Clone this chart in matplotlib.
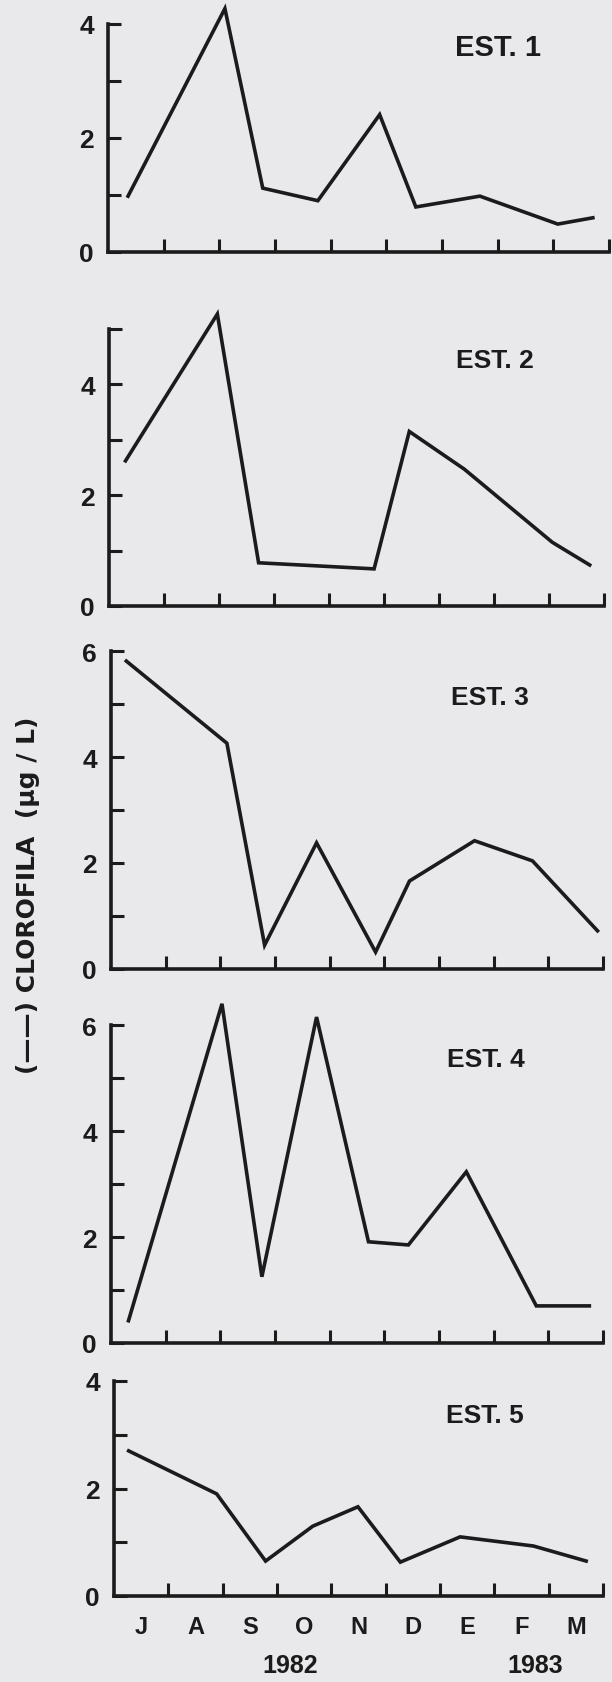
import numpy as np
import matplotlib
matplotlib.use("Agg")
import matplotlib.pyplot as plt

# meses del muestreo (jul 1982 - mar 1983)
meses = ["J", "A", "S", "O", "N", "D", "E", "F", "M"]
anios = ["1982", "1983"]
estaciones = ["EST. 1", "EST. 2", "EST. 3", "EST. 4", "EST. 5"]

# x = fecha de muestreo en meses desde el 1 de julio 1982, y = clorofila (ug/L)
x_est1 = [0.36, 2.10, 2.78, 3.77, 4.88, 5.53, 6.68, 8.08, 8.71]
clor_est1 = [0.98, 4.27, 1.12, 0.90, 2.41, 0.79, 0.98, 0.49, 0.60]

x_est2 = [0.30, 1.97, 2.72, 4.82, 5.46, 6.46, 8.06, 8.74]
clor_est2 = [2.62, 5.27, 0.78, 0.67, 3.15, 2.47, 1.15, 0.74]

x_est3 = [0.28, 2.12, 2.81, 3.76, 4.84, 5.46, 6.65, 7.71, 8.90]
clor_est3 = [5.81, 4.26, 0.45, 2.38, 0.32, 1.66, 2.42, 2.04, 0.72]

x_est4 = [0.32, 2.03, 2.76, 3.76, 4.71, 5.44, 6.50, 7.78, 8.75]
clor_est4 = [0.42, 6.40, 1.25, 6.15, 1.91, 1.85, 3.23, 0.70, 0.70]

x_est5 = [0.27, 1.89, 2.79, 3.66, 4.49, 5.27, 6.37, 7.72, 8.69]
clor_est5 = [2.70, 1.90, 0.65, 1.30, 1.66, 0.63, 1.10, 0.93, 0.65]

ymax = [4, 5, 6, 6, 4]

W, H = 612, 1683
tinta = "#1b1b1b"
papel = "#e9e9ec"

plt.rcParams['font.family'] = ['Liberation Sans', 'DejaVu Sans']

fig = plt.figure(figsize=(W / 100, H / 100), dpi=100)
fig.patch.set_facecolor(papel)

# caja de cada panel en pixeles: izquierda, derecha, y del cero, y del maximo
cajas = [(108, 609, 253, 25),
         (109, 604, 607, 330),
         (111, 603, 970, 652),
         (111, 603, 1344, 1026),
         (114, 603, 1597, 1382)]
pos_est = [(498, 48), (495, 361), (490, 698), (486, 1060), (485, 1416)]
tam_est = [21, 19, 19, 19, 19]

xs = [x_est1, x_est2, x_est3, x_est4, x_est5]
ys = [clor_est1, clor_est2, clor_est3, clor_est4, clor_est5]

for i in range(5):
    l, r, b, t = cajas[i]
    ax = fig.add_axes([l / W, 1 - b / H, (r - l) / W, (b - t) / H])
    ax.patch.set_alpha(0)
    ax.plot(xs[i], ys[i], color=tinta, lw=2.6, clip_on=False,
            solid_joinstyle='miter')
    ax.set_xlim(0, 9)
    ax.set_ylim(0, ymax[i])
    for s in ['top', 'right']:
        ax.spines[s].set_visible(False)
    for s in ['left', 'bottom']:
        ax.spines[s].set_linewidth(2.6)
        ax.spines[s].set_color(tinta)

    yt = list(range(0, ymax[i] + 1))
    ax.set_yticks(yt)
    ax.set_yticklabels([str(v) if v % 2 == 0 else "" for v in yt])
    ax.tick_params(axis='y', direction='in', length=9.5, width=2.2, color=tinta,
                   labelsize=19, pad=10, labelcolor=tinta)
    ax.set_xticks(range(1, 10))
    ax.set_xticklabels([""] * 9)
    ax.tick_params(axis='x', which='major', direction='in', length=9.5,
                   width=2.2, color=tinta)
    for lab in ax.get_yticklabels():
        lab.set_fontweight('bold')

    if i == 4:
        ax.set_xticks(np.arange(9) + 0.5, minor=True)
        ax.set_xticklabels(meses, minor=True, fontsize=17, fontweight='bold',
                           color=tinta)
        ax.tick_params(axis='x', which='minor', length=0, pad=14)

    fig.text(pos_est[i][0] / W, 1 - pos_est[i][1] / H, estaciones[i],
             fontsize=tam_est[i], fontweight='bold', color=tinta,
             ha='center', va='center')

fig.text(290 / W, 1 - 1666 / H, anios[0], fontsize=18, fontweight='bold',
         color=tinta, ha='center', va='center')
fig.text(535 / W, 1 - 1666 / H, anios[1], fontsize=18, fontweight='bold',
         color=tinta, ha='center', va='center')

fig.text(28 / W, 1 - 895 / H, "(\u2014\u2014) CLOROFILA  (\u00b5g / L)",
         rotation=90, fontsize=18, fontweight='bold', color=tinta,
         family=['DejaVu Sans'], ha='center', va='center')

fig.savefig("out.png", dpi=100, facecolor=papel)
